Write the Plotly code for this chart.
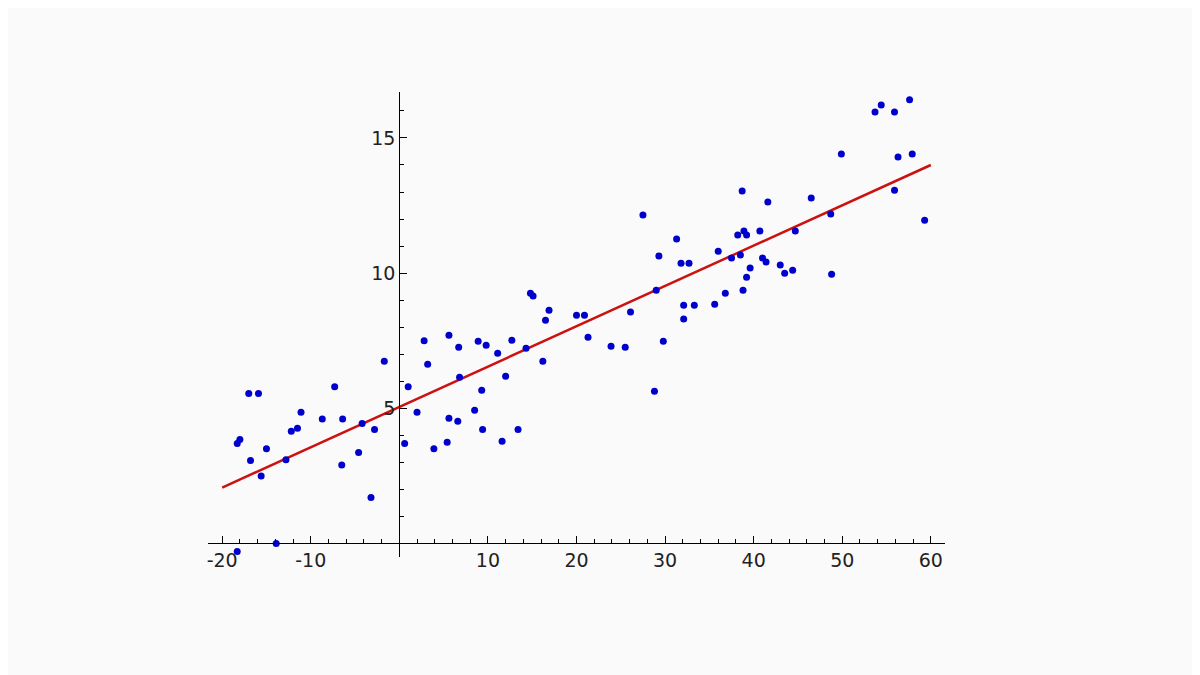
import plotly.graph_objects as go

xs = [-18.3,-18.3,-18.0,-17.0,-15.9,-16.8,-15.6,-15.0,-13.9,-12.8,-12.2,-11.5,-11.1,-8.7,-7.3,-6.5,-6.4,-4.6,-4.2,-3.2,-2.8,-1.7,
      0.6,1.0,2.0,2.8,3.2,3.9,5.4,5.6,5.6,6.6,6.7,6.8,8.5,8.9,9.3,9.4,9.8,11.1,11.6,12.0,12.7,13.4,14.3,14.8,15.1,16.2,16.5,16.9,
      20.0,20.9,21.3,23.9,25.5,26.1,27.5,28.8,29.0,29.3,29.8,31.3,31.8,32.1,32.1,32.7,33.3,35.6,36.0,36.8,37.5,38.2,38.5,38.7,38.8,
      38.9,39.2,39.2,39.6,40.7,41.0,41.4,41.6,43.0,43.5,44.4,44.7,46.5,48.7,48.8,49.9,53.7,54.4,55.9,55.9,56.3,57.6,57.9,59.3]
ys = [-0.3,3.7,3.85,5.55,5.55,3.07,2.5,3.5,0.0,3.1,4.15,4.26,4.85,4.6,5.8,2.9,4.6,3.37,4.44,1.7,4.22,6.74,
      3.7,5.8,4.85,7.5,6.63,3.5,3.74,7.7,4.63,4.52,7.26,6.15,4.93,7.48,5.67,4.22,7.33,7.04,3.78,6.19,7.52,4.22,7.22,9.26,9.15,6.74,8.26,8.63,
      8.44,8.44,7.63,7.3,7.26,8.56,12.15,5.63,9.37,10.63,7.48,11.26,10.37,8.81,8.3,10.37,8.81,8.85,10.81,9.26,10.56,11.41,10.67,13.04,9.37,
      11.56,11.41,9.85,10.19,11.56,10.56,10.41,12.63,10.3,10.0,10.11,11.56,12.78,12.19,9.96,14.41,15.96,16.22,15.96,13.07,14.30,16.41,14.41,11.96]
line_x = [-20, 60]
line_y = [2.07, 14.0]
x_ticks = [-20, -10, 10, 20, 30, 40, 50, 60]
x_labels = ["-20", "-10", "10", "20", "30", "40", "50", "60"]
y_ticks = [5, 10, 15]

fig = go.Figure()
fig.add_trace(go.Scatter(x=line_x, y=line_y, mode="lines", line=dict(color="#cc1111", width=2.5), hoverinfo="skip"))
fig.add_trace(go.Scatter(x=xs, y=ys, mode="markers", marker=dict(color="#0000cc", size=7)))

yr = [-0.5, 16.7]
xr = [-21.6, 61.6]
fig.update_layout(
    width=1200, height=675, showlegend=False,
    paper_bgcolor="#fafafa", plot_bgcolor="#fafafa",
    margin=dict(l=200, r=263, t=84, b=126),
    font=dict(family="DejaVu Sans", size=19, color="#222"),
    xaxis=dict(range=xr, anchor="free", position=(0 - yr[0]) / (yr[1] - yr[0]),
               showgrid=False, zeroline=False, showline=True, linecolor="black", linewidth=1.3,
               tickvals=x_ticks, ticktext=x_labels, ticks="inside", ticklen=7, tickcolor="black",
               minor=dict(dtick=2, ticks="inside", ticklen=4, tickcolor="black")),
    yaxis=dict(range=yr, anchor="free", position=(0 - xr[0]) / (xr[1] - xr[0]),
               showgrid=False, zeroline=False, showline=True, linecolor="black", linewidth=1.3,
               tickvals=y_ticks, ticks="inside", ticklen=7, tickcolor="black",
               minor=dict(dtick=1, ticks="inside", ticklen=4, tickcolor="black")),
)
fig.write_html("out.html")
